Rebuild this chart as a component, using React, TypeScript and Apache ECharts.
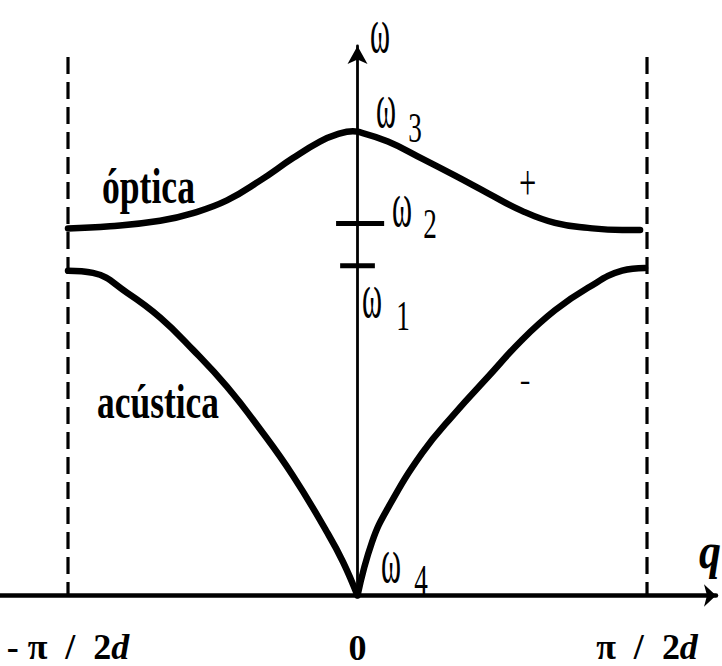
import React, { useEffect, useRef } from 'react';
import * as echarts from 'echarts';

// Wave-vector ticks (units of π/2d) and their labels
const qTicks = [-1, 0, 1];
const qTickLabels = ['- π  /  2d', '0', 'π  /  2d'];

// Optical branch ω(q)
const opticalQ = [-1, -0.855, -0.682, -0.568, -0.451, -0.337, -0.223, -0.13, -0.071, -0.016, 0, 0.105, 0.223, 0.337, 0.451, 0.568, 0.682, 0.796, 0.914, 0.976];
const opticalW = [0.668, 0.672, 0.682, 0.696, 0.719, 0.755, 0.796, 0.826, 0.839, 0.845, 0.844, 0.826, 0.795, 0.764, 0.732, 0.7, 0.678, 0.669, 0.665, 0.665];

// Acoustic branch ω(q), split at the cusp q = 0
const acousticLeftQ = [-1, -0.914, -0.796, -0.682, -0.568, -0.451, -0.337, -0.223, -0.105, -0.05, 0];
const acousticLeftW = [0.591, 0.587, 0.551, 0.506, 0.447, 0.38, 0.303, 0.218, 0.115, 0.061, 0];
const acousticRightQ = [0, 0.05, 0.105, 0.223, 0.337, 0.451, 0.568, 0.682, 0.796, 0.914, 0.993];
const acousticRightW = [0, 0.097, 0.159, 0.259, 0.332, 0.398, 0.465, 0.519, 0.56, 0.591, 0.596];

// Brillouin-zone edges
const zoneEdges = [-1, 1];
const zoneTop = 0.98;

// Gap frequencies marked on the ω axis
const gapLevels = [0.677, 0.6];
const gapSpans = [[-0.074, 0.092], [-0.06, 0.06]];

const toPairs = (xs: number[], ys: number[]) => xs.map((x, i) => [x, ys[i]]);

const SERIF = 'Liberation Serif';

const label = (
  text: string,
  x: number,
  y: number,
  size: number,
  sx: number,
  sy: number,
  weight: string = 'normal',
  style: string = 'normal',
  lineHeight?: number
) => ({
  type: 'text',
  x,
  y,
  scaleX: sx,
  scaleY: sy,
  z: 100,
  style: {
    text,
    fontSize: size,
    fontFamily: SERIF,
    fontWeight: weight,
    fontStyle: style,
    lineHeight: lineHeight ?? size,
    fill: '#000',
    align: 'center',
    verticalAlign: 'middle',
    textAlign: 'center',
    textVerticalAlign: 'middle',
  },
});

const omega = (x: number, y: number) => label('ω', x, y, 38, 0.8, 1.75, 'normal', 'normal', 24);
const sub = (t: string, x: number, y: number) => label(t, x, y, 34, 0.8, 1.25, 'normal', 'normal', 28);

export default function App() {
  const ref = useRef<HTMLDivElement>(null);

  useEffect(() => {
    if (!ref.current) return;
    const chart = echarts.init(ref.current, null, { renderer: 'svg' });

    const black = '#000';
    const curve = (data: number[][]) => ({
      type: 'line',
      data,
      smooth: 0.45,
      symbol: 'none',
      lineStyle: { color: black, width: 6.5, cap: 'round', join: 'round' },
      z: 5,
    });

    const series: any[] = [
      curve(toPairs(opticalQ, opticalW)),
      curve(toPairs(acousticLeftQ, acousticLeftW)),
      curve(toPairs(acousticRightQ, acousticRightW)),
      ...zoneEdges.map((q) => ({
        type: 'line',
        data: [[q, zoneTop], [q, 0]],
        symbol: 'none',
        lineStyle: { color: black, width: 3.2, type: [17, 8] },
        z: 3,
      })),
      ...gapLevels.map((w, i) => ({
        type: 'line',
        data: [[gapSpans[i][0], w], [gapSpans[i][1], w]],
        symbol: 'none',
        lineStyle: { color: black, width: 5 },
        z: 4,
      })),
    ];

    const baseFont = { fontFamily: SERIF, fontWeight: 'bold', fontSize: 36, color: black };

    chart.setOption({
      animation: false,
      backgroundColor: '#fff',
      grid: { left: 0, right: 6, top: 46, bottom: 65 },
      xAxis: {
        type: 'value',
        min: -1.2349,
        max: 1.2383,
        splitLine: { show: false },
        axisTick: { show: false },
        axisLine: {
          onZero: true,
          symbol: ['none', 'arrow'],
          symbolSize: [17, 12],
          lineStyle: { color: black, width: 4.5 },
        },
        axisLabel: {
          customValues: qTicks,
          margin: 36,
          ...baseFont,
          lineHeight: 30,
          formatter: (v: number) => {
            const i = qTicks.findIndex((t) => Math.abs(t - v) < 1e-9);
            const s = i >= 0 ? qTickLabels[i] : '';
            if (s.endsWith('d')) return `{n|${s.slice(0, -1)}}{i|d}`;
            return `{z|${s}}`;
          },
          rich: {
            n: { ...baseFont, lineHeight: 30 },
            i: { ...baseFont, fontStyle: 'italic', lineHeight: 30 },
            z: { ...baseFont, lineHeight: 30, padding: [3, 0, 0, 0] },
          },
        },
      },
      yAxis: {
        type: 'value',
        min: 0,
        max: 1,
        splitLine: { show: false },
        axisTick: { show: false },
        axisLabel: { show: false },
        axisLine: {
          onZero: true,
          symbol: ['none', 'arrow'],
          symbolSize: [15, 18],
          lineStyle: { color: black, width: 2.8 },
        },
      },
      series,
      graphic: [
        // axis names
        omega(380, 29),
        label('q', 710, 551, 44, 1, 1.15, 'bold', 'italic', 36),
        // characteristic frequencies
        omega(386, 104),
        sub('3', 415, 128),
        omega(402, 203),
        sub('2', 430, 224),
        omega(372, 294),
        sub('1', 403, 316),
        omega(391, 559),
        sub('4', 421, 580),
        // branch names and signs
        label('óptica', 148.5, 186, 40, 0.89, 1.28, 'bold'),
        label('acústica', 158, 401, 40, 0.885, 1.22, 'bold'),
        label('+', 527.5, 183, 36, 0.85, 1.4),
        label('-', 525, 379, 32, 1, 1),
      ],
    });

    return () => chart.dispose();
  }, []);

  return (
    <div
      ref={ref}
      style={{ position: 'fixed', left: 0, top: 0, width: 722, height: 666, background: '#fff' }}
    />
  );
}
